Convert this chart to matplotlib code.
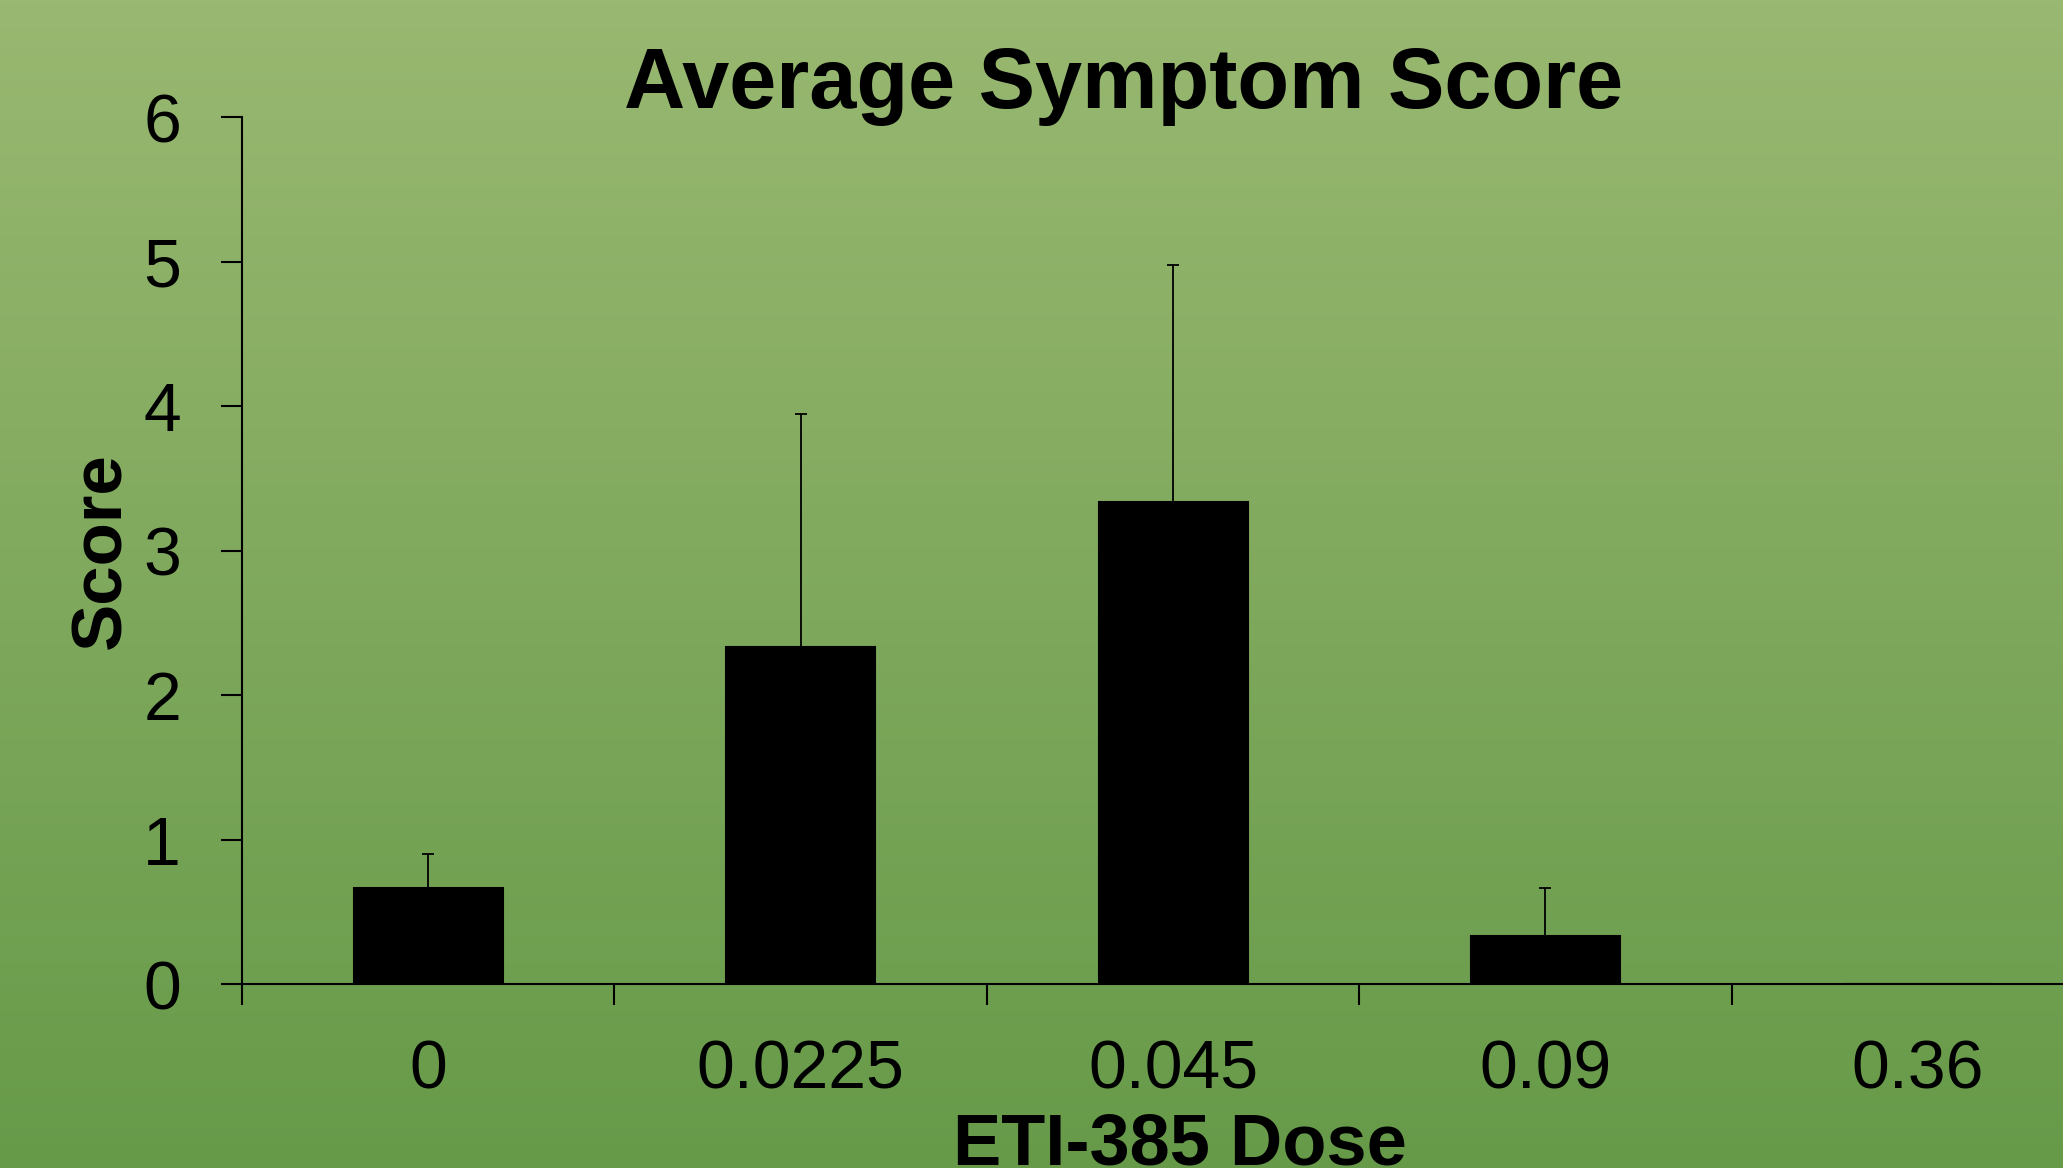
import matplotlib
matplotlib.use("Agg")
import matplotlib.pyplot as plt
from matplotlib.colors import LinearSegmentedColormap
import numpy as np

plt.rcParams["font.family"] = ["Liberation Sans", "DejaVu Sans"]

# data
doses = ["0", "0.0225", "0.045", "0.09", "0.36"]
scores = [0.667, 2.333, 3.333, 0.333, 0.0]
errors = [0.23, 1.61, 1.64, 0.33, 0.0]

fig = plt.figure(figsize=(20.63, 11.68), dpi=100)

# background gradient (light green on top, darker at the bottom)
bg = fig.add_axes([0, 0, 1, 1], zorder=0)
grad_cmap = LinearSegmentedColormap.from_list("bg", ["#99b871", "#669a49"])
bg.imshow(np.linspace(0, 1, 256).reshape(-1, 1), aspect="auto", cmap=grad_cmap,
          extent=[0, 1, 0, 1], origin="upper")
bg.set_axis_off()

ax = fig.add_axes([0.1173, 0.1575, 0.9026, 0.7423], zorder=1)
ax.patch.set_alpha(0)
x = np.arange(len(doses))
ax.bar(x, scores, width=0.4, color="black", edgecolor="black", linewidth=1.5,
       yerr=[np.zeros(len(errors)), errors], capsize=4.5,
       error_kw=dict(elinewidth=1.3, capthick=1.3, ecolor="black"))

ax.set_xlim(-0.5, 4.5)
ax.set_ylim(0, 6)

for side in ["top", "right"]:
    ax.spines[side].set_visible(False)
for side in ["left", "bottom"]:
    ax.spines[side].set_linewidth(1.5)

# labels sit under the bars, ticks sit between the categories
ax.set_xticks(x)
ax.set_xticklabels(doses, fontsize=49)
ax.set_xticks(np.arange(-0.5, 4.0, 1.0), minor=True)
ax.tick_params(axis="x", which="major", length=0, pad=39)
ax.tick_params(axis="x", which="minor", direction="out", length=15, width=1.5)

ax.set_yticks(range(7))
ax.set_yticklabels([str(v) for v in range(7)], fontsize=49)
ax.tick_params(axis="y", direction="out", length=15, width=1.5, pad=29)

fig.text(0.5448, 0.9075, "Average Symptom Score", fontsize=61, fontweight="bold",
         ha="center", va="baseline")
fig.text(0.0497, 0.529, "Score", fontsize=51, fontweight="bold", rotation=90,
         ha="center", va="center")
fig.text(0.572, 0.0026, "ETI-385 Dose", fontsize=52, fontweight="bold",
         ha="center", va="baseline")

fig.savefig("out.png", dpi=100)
